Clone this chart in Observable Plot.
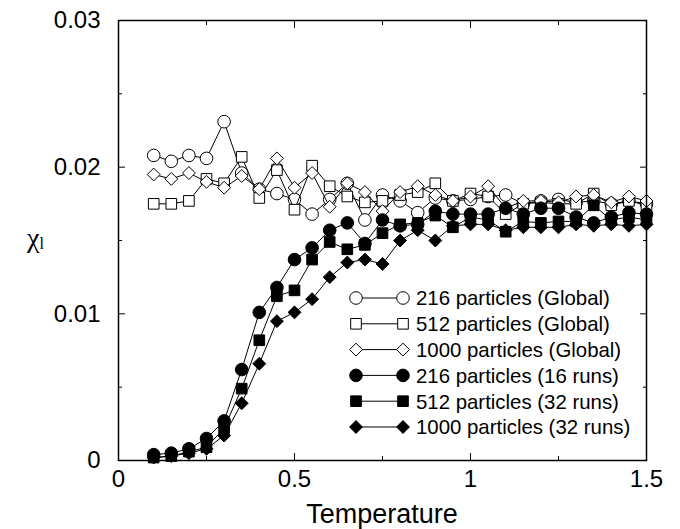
<!DOCTYPE html>
<html><head><meta charset="utf-8">
<script src="https://cdn.jsdelivr.net/npm/d3@7"></script>
<script src="https://cdn.jsdelivr.net/npm/@observablehq/plot@0.6"></script>
<style>
body{margin:0;background:#fff}
#chart{width:680px;height:529px}
</style>
</head><body><div id="chart"></div>
<script>
const temperature = [0.1,0.15,0.2,0.25,0.3,0.35,0.4,0.45,0.5,0.55,0.6,0.65,0.7,0.75,0.8,0.85,0.9,0.95,1,1.05,1.1,1.15,1.2,1.25,1.3,1.35,1.4,1.45,1.5];
const global216 = [0.0208,0.0204,0.0208,0.0206,0.0231,0.0196,0.0185,0.0182,0.0178,0.0168,0.0178,0.0189,0.0164,0.0181,0.0177,0.0169,0.0179,0.0177,0.0178,0.0180,0.0181,0.0175,0.0177,0.0178,0.0176,0.0177,0.0175,0.0177,0.0175];
const global512 = [0.0175,0.0175,0.0177,0.0192,0.0189,0.0207,0.0179,0.0198,0.0171,0.0201,0.0187,0.0180,0.0176,0.0177,0.0181,0.0183,0.0189,0.0177,0.0182,0.0180,0.0168,0.0175,0.0176,0.0175,0.0175,0.0182,0.0174,0.0177,0.0174];
const global1000 = [0.0195,0.0192,0.0196,0.0190,0.0186,0.0194,0.0185,0.0206,0.0186,0.0196,0.0173,0.0189,0.0183,0.0170,0.0183,0.0187,0.0181,0.0177,0.0180,0.0187,0.0172,0.0177,0.0177,0.0176,0.0180,0.0181,0.0176,0.0180,0.0177];
const runs216 = [0.0004,0.0005,0.0008,0.0015,0.0027,0.0062,0.0101,0.0118,0.0137,0.0145,0.0157,0.0162,0.0148,0.0164,0.0160,0.0161,0.0170,0.0168,0.0168,0.0168,0.0172,0.0168,0.0172,0.0172,0.0166,0.0162,0.0166,0.0169,0.0168];
const runs512 = [0.0002,0.0003,0.0006,0.0009,0.0022,0.0049,0.0082,0.0112,0.0116,0.0137,0.0149,0.0144,0.0147,0.0155,0.0161,0.0162,0.0167,0.0159,0.0166,0.0164,0.0156,0.0163,0.0162,0.0163,0.0163,0.0174,0.0164,0.0166,0.0164];
const runs1000 = [0.0002,0.0003,0.0005,0.0008,0.0017,0.0039,0.0066,0.0095,0.0101,0.0110,0.0125,0.0135,0.0137,0.0134,0.0150,0.0157,0.0150,0.0160,0.0161,0.0161,0.0157,0.0159,0.0159,0.0159,0.0161,0.0160,0.0161,0.0160,0.0161];

const seriesNames = ["216 particles (Global)","512 particles (Global)","1000 particles (Global)","216 particles (16 runs)","512 particles (32 runs)","1000 particles (32 runs)"];
const xTicks = [0, 0.5, 1, 1.5];
const xMinorTicks = [0.25, 0.75, 1.25];
const yTicks = [0, 0.01, 0.02, 0.03];
const yMinorTicks = [0.005, 0.015, 0.025];
const xLabel = "Temperature";

const seriesValues = [global216, global512, global1000, runs216, runs512, runs1000];
const styles = [
  {symbol:"circle", fill:"white", r:6.3},
  {symbol:"square", fill:"white", r:6.0},
  {symbol:"diamond2", fill:"white", r:5.8},
  {symbol:"circle", fill:"black", r:6.3},
  {symbol:"square", fill:"black", r:6.0},
  {symbol:"diamond2", fill:"black", r:5.8}
];

const FONT = "'Liberation Sans', Arial, sans-serif";
const ML = 118, MR = 34, MT = 20, MB = 69, W = 680, H = 529;

const seriesMarks = seriesValues.flatMap((vals, i) => {
  const rows = vals.map((v, j) => ({T: temperature[j], chi: v}));
  const s = styles[i];
  return [
    Plot.line(rows, {x:"T", y:"chi", stroke:"black", strokeWidth:1}),
    Plot.dot(rows, {x:"T", y:"chi", symbol:s.symbol, fill:s.fill, stroke:"black", strokeWidth:1, r:s.r})
  ];
});

const plot = Plot.plot({
  width: W, height: H,
  marginLeft: ML, marginRight: MR, marginTop: MT, marginBottom: MB,
  style: {fontFamily: FONT, background: "white", color: "black"},
  x: {domain: [0, 1.5]},
  y: {domain: [0, 0.03]},
  marks: [
    Plot.axisX(xTicks, {anchor:"bottom", tickSize:7, dy:-7, fill:"none", label:null}),
    Plot.axisX(xMinorTicks, {anchor:"bottom", tickSize:4, dy:-4, fill:"none", label:null}),
    Plot.axisX(xTicks, {anchor:"top", tickSize:7, dy:7, fill:"none", label:null}),
    Plot.axisX(xMinorTicks, {anchor:"top", tickSize:4, dy:4, fill:"none", label:null}),
    Plot.axisY(yTicks, {anchor:"left", tickSize:7, dx:7, fill:"none", label:null}),
    Plot.axisY(yMinorTicks, {anchor:"left", tickSize:4, dx:4, fill:"none", label:null}),
    Plot.axisY(yTicks, {anchor:"right", tickSize:7, dx:-7, fill:"none", label:null}),
    Plot.axisY(yMinorTicks, {anchor:"right", tickSize:4, dx:-4, fill:"none", label:null}),
    Plot.axisX(xTicks, {anchor:"bottom", tickSize:0, tickPadding:9, fontSize:24, label:null, tickFormat: d => String(d)}),
    Plot.axisY(yTicks, {anchor:"left", tickSize:0, tickPadding:18, fontSize:24, label:null, tickFormat: d => String(d)}),
    ...seriesMarks,
    Plot.frame({stroke:"black", strokeWidth:1.5})
  ]
});

document.getElementById("chart").appendChild(plot);

const svg = d3.select(plot);
// x-axis title
svg.append("text")
  .attr("x", ML + (W - ML - MR) / 2).attr("y", 523).attr("text-anchor", "middle")
  .attr("font-family", FONT).attr("font-size", 27).attr("fill", "black").text(xLabel);

// y-axis label χ with subscript l
const yl = svg.append("text")
  .attr("x", 27).attr("y", 247).attr("text-anchor", "start")
  .attr("font-family", "'Liberation Serif', 'DejaVu Serif', serif").attr("font-size", 28).attr("fill", "black");
yl.append("tspan").text("χ");
yl.append("tspan").attr("font-size", 16).attr("dy", 2).text("l");

// legend
const lg = svg.append("g").attr("font-family", FONT).attr("font-size", 20.4).attr("text-anchor", "start");
const symTypes = {circle: d3.symbolCircle, square: d3.symbolSquare, diamond2: d3.symbolDiamond2};
seriesNames.forEach((name, i) => {
  const yy = 298 + i * 25.8;
  const s = styles[i];
  lg.append("line").attr("x1", 356).attr("x2", 403).attr("y1", yy).attr("y2", yy)
    .attr("stroke", "black").attr("stroke-width", 1);
  [356, 403].forEach(xx => {
    lg.append("path").attr("d", d3.symbol(symTypes[s.symbol], Math.PI * s.r * s.r)())
      .attr("transform", `translate(${xx},${yy})`)
      .attr("fill", s.fill).attr("stroke", "black").attr("stroke-width", 1);
  });
  lg.append("text").attr("x", 416).attr("y", yy).attr("dy", "0.36em").attr("fill", "black").text(name);
});
</script>
</body></html>
